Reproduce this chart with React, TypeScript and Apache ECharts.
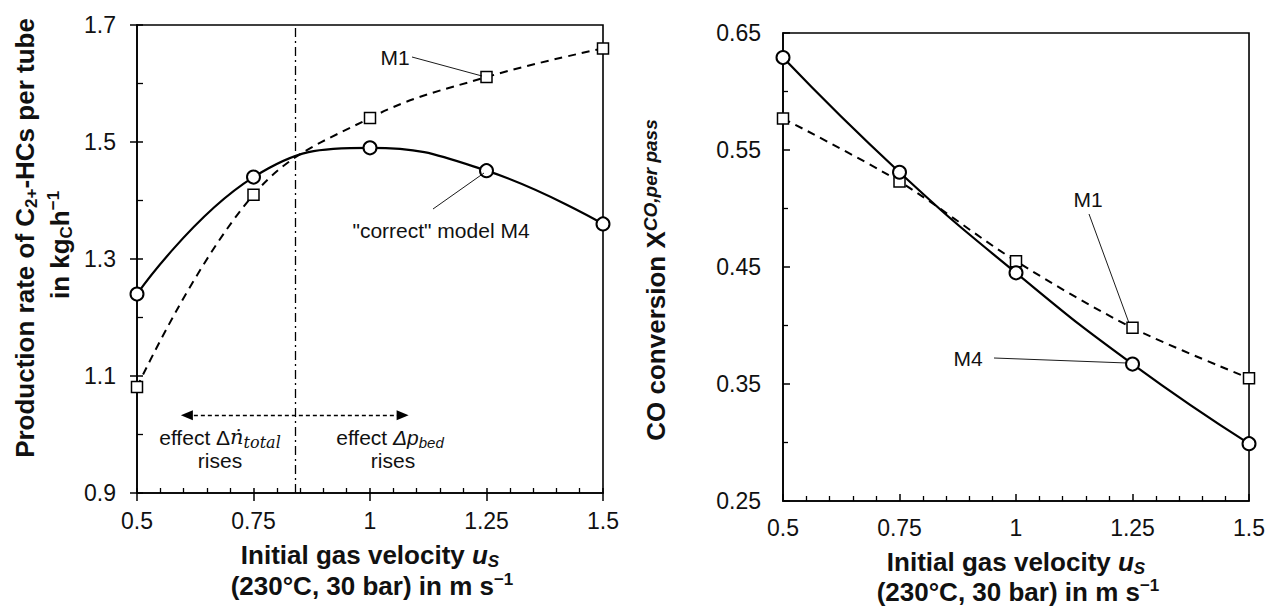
import React, { useEffect, useRef } from "react";
import * as echarts from "echarts";

// ---- data ----
const velocities = [0.5, 0.75, 1, 1.25, 1.5];
const productionM4 = [1.24, 1.44, 1.49, 1.451, 1.36];
const productionM1 = [1.081, 1.41, 1.541, 1.611, 1.66];
const conversionM4 = [0.629, 0.531, 0.445, 0.367, 0.299];
const conversionM1 = [0.577, 0.523, 0.455, 0.398, 0.355];
const crossoverVelocity = 0.84;
const effectArrow = { from: 0.607, to: 1.07, level: 1.033 };

const FONT = "'Liberation Sans', Arial, sans-serif";
const INK = "#000";
const TXT = "#111";

const pairs = (ys: number[]) => velocities.map((x, i) => [x, ys[i]]);

function xMain(grid: number, inside: boolean, len: number, margin: number, minor: boolean) {
  return {
    type: "value", gridIndex: grid, position: "bottom", min: 0.5, max: 1.5, interval: 0.25,
    axisLine: { show: true, onZero: false, lineStyle: { color: INK, width: 1.6 } },
    axisTick: { show: true, inside, length: len, lineStyle: { color: INK, width: 1.5 } },
    minorTick: { show: minor, splitNumber: 5, length: 5, lineStyle: { color: INK, width: 1.3 } },
    axisLabel: { show: true, fontSize: 23, color: TXT, fontFamily: FONT, margin,
      formatter: (v: number) => String(+v.toFixed(2)) },
    splitLine: { show: false },
  };
}
function xOverlay(grid: number) {
  return {
    type: "value", gridIndex: grid, position: "bottom", min: 0.5, max: 1.5, interval: 0.25,
    axisLine: { show: false, onZero: false },
    axisTick: { show: true, inside: true, length: 5, lineStyle: { color: INK, width: 1.5 } },
    minorTick: { show: true, splitNumber: 5, length: 5, lineStyle: { color: INK, width: 1.3 } },
    axisLabel: { show: false }, splitLine: { show: false },
  };
}

export default function App() {
  const ref = useRef<HTMLDivElement>(null);
  useEffect(() => {
    if (!ref.current) return;
    const chart = echarts.init(ref.current, null, { renderer: "svg" });
    const circleStyle = { color: "#fff", borderColor: INK, borderWidth: 2 };
    const squareStyle = { color: "#fff", borderColor: INK, borderWidth: 1.5 };
    const rich = {
      b: { fontSize: 26, fontWeight: "bold", fontFamily: FONT, color: TXT, lineHeight: 30 },
      bi: { fontSize: 26, fontWeight: "bold", fontStyle: "italic", fontFamily: FONT, color: TXT, lineHeight: 30 },
      s: { fontSize: 17, fontWeight: "bold", fontFamily: FONT, color: TXT, lineHeight: 17, verticalAlign: "bottom" },
      si: { fontSize: 17, fontWeight: "bold", fontStyle: "italic", fontFamily: FONT, color: TXT, lineHeight: 17, verticalAlign: "bottom" },
      p: { fontSize: 17, fontWeight: "bold", fontFamily: FONT, color: TXT, lineHeight: 17, verticalAlign: "top" },
      pi: { fontSize: 19, fontWeight: "bold", fontStyle: "italic", fontFamily: FONT, color: TXT, lineHeight: 22, verticalAlign: "top" },
    };
    const noteRich = {
      n: { fontSize: 21, fontFamily: FONT, color: TXT, lineHeight: 26 },
      m: { fontSize: 21, fontStyle: "italic", fontFamily: "'DejaVu Serif', serif", color: TXT, lineHeight: 26 },
      ms: { fontSize: 16, fontStyle: "italic", fontFamily: "'DejaVu Serif', serif", color: TXT, lineHeight: 14, verticalAlign: "bottom" },
      it: { fontSize: 21, fontStyle: "italic", fontFamily: FONT, color: TXT, lineHeight: 26 },
      its: { fontSize: 15, fontStyle: "italic", fontFamily: FONT, color: TXT, lineHeight: 14, verticalAlign: "bottom" },
    };
    const txt = (x: number, y: number, text: string, r: any, rotation = 0) => ({
      type: "text", x, y, rotation, z: 100,
      style: { text, rich: r, align: "center", verticalAlign: "middle", textAlign: "center", textVerticalAlign: "middle", fill: TXT },
    });
    const plain = (x: number, y: number, text: string) => ({
      type: "text", x, y, z: 100,
      style: { text, fontSize: 21, fontFamily: FONT, fill: TXT, align: "center", verticalAlign: "middle", textAlign: "center", textVerticalAlign: "middle" },
    });
    const leader = (x1: number, y1: number, x2: number, y2: number) => ({
      type: "line", z: 100, shape: { x1, y1, x2, y2 }, style: { stroke: INK, lineWidth: 0.9 },
    });

    chart.setOption({
      animation: false,
      backgroundColor: "#fff",
      grid: [
        { left: 137, top: 25, width: 466, height: 468, show: true, borderColor: INK, borderWidth: 1.6, backgroundColor: "transparent" },
        { left: 783, top: 33, width: 467, height: 468, show: true, borderColor: INK, borderWidth: 1.6, backgroundColor: "transparent" },
      ],
      xAxis: [
        xMain(0, false, 8, 16, false),
        xOverlay(0),
        xMain(1, true, 7, 15, true),
      ],
      yAxis: [
        {
          type: "value", gridIndex: 0, position: "left", min: 0.9, max: 1.7, interval: 0.2,
          axisLine: { show: true, onZero: false, lineStyle: { color: INK, width: 1.6 } },
          axisTick: { show: true, inside: false, length: 7, lineStyle: { color: INK, width: 1.5 } },
          axisLabel: { fontSize: 23, color: TXT, fontFamily: FONT, margin: 21, formatter: (v: number) => v.toFixed(1) },
          splitLine: { show: false },
        },
        {
          type: "value", gridIndex: 0, position: "left", min: 0.9, max: 1.7, interval: 0.2,
          axisLine: { show: false, onZero: false },
          axisTick: { show: true, inside: true, length: 6, lineStyle: { color: INK, width: 1.5 } },
          minorTick: { show: true, splitNumber: 2, length: 6, lineStyle: { color: INK, width: 1.3 } },
          axisLabel: { show: false }, splitLine: { show: false },
        },
        {
          type: "value", gridIndex: 1, position: "left", min: 0.25, max: 0.65, interval: 0.1,
          axisLine: { show: true, onZero: false, lineStyle: { color: INK, width: 1.6 } },
          axisTick: { show: true, inside: true, length: 7, lineStyle: { color: INK, width: 1.5 } },
          minorTick: { show: true, splitNumber: 2, length: 5, lineStyle: { color: INK, width: 1.3 } },
          axisLabel: { fontSize: 23, color: TXT, fontFamily: FONT, margin: 22, formatter: (v: number) => v.toFixed(2) },
          splitLine: { show: false },
        },
      ],
      series: [
        {
          name: "M4 production", type: "line", xAxisIndex: 0, yAxisIndex: 0, data: pairs(productionM4),
          smooth: 0.45, symbol: "circle", symbolSize: 13, itemStyle: circleStyle,
          lineStyle: { color: INK, width: 2.2 }, z: 4,
          markLine: {
            silent: true, symbol: ["none", "none"], label: { show: false },
            lineStyle: { color: INK, width: 1.3, type: [9, 4, 2, 4] },
            data: [{ xAxis: crossoverVelocity }],
          },
        },
        {
          name: "M1 production", type: "line", xAxisIndex: 0, yAxisIndex: 0, data: pairs(productionM1),
          smooth: 0.4, symbol: "rect", symbolSize: 11, itemStyle: squareStyle,
          lineStyle: { color: INK, width: 2, type: [8, 6] }, z: 3,
          markLine: {
            silent: true, symbol: ["triangle", "triangle"], symbolSize: [10, 12], label: { show: false },
            lineStyle: { color: INK, width: 1.4, type: [4, 3] },
            data: [[{ coord: [effectArrow.from, effectArrow.level] }, { coord: [effectArrow.to, effectArrow.level] }]],
          },
        },
        {
          name: "M4 conversion", type: "line", xAxisIndex: 2, yAxisIndex: 2, data: pairs(conversionM4),
          smooth: 0.5, symbol: "circle", symbolSize: 13, itemStyle: circleStyle,
          lineStyle: { color: INK, width: 2.2 }, z: 4,
        },
        {
          name: "M1 conversion", type: "line", xAxisIndex: 2, yAxisIndex: 2, data: pairs(conversionM1),
          smooth: 0.3, symbol: "rect", symbolSize: 11, itemStyle: squareStyle,
          lineStyle: { color: INK, width: 2, type: [8, 6] }, z: 3,
        },
      ],
      graphic: [
        // left y title
        txt(25, 238, "{b|Production rate of C}{s|2+}{b|-HCs per tube}", rich, Math.PI / 2),
        txt(60, 245, "{b|in kg}{s|C}{b|h}{p|−1}", rich, Math.PI / 2),
        // left x title
        txt(370, 555, "{b|Initial gas velocity }{bi|u}{si|S}", rich),
        txt(372, 586, "{b|(230°C, 30 bar) in m}{b| s}{p|−1}", rich),
        // right y title
        txt(656, 280, "{b|CO conversion }{b|X}{pi|CO,per pass}", rich, Math.PI / 2),
        // right x title
        txt(1016, 562, "{b|Initial gas velocity }{bi|u}{si|S}", rich),
        txt(1018, 592, "{b|(230°C, 30 bar) in m}{b| s}{p|−1}", rich),
        // left annotations
        plain(395, 57, "M1"),
        leader(412, 57, 482, 76),
        plain(441, 230, "\"correct\" model M4"),
        leader(433, 209, 484, 173),
        txt(220, 437, "{n|effect Δ}{m|ṅ}{ms|total}", noteRich),
        plain(220, 460, "rises"),
        txt(390, 437, "{n|effect }{it|Δp}{its|bed}", noteRich),
        plain(393, 460, "rises"),
        // right annotations
        plain(1088, 199, "M1"),
        leader(1089, 214, 1129, 323),
        plain(968, 358, "M4"),
        leader(994, 358, 1127, 363),
      ],
    });
    return () => chart.dispose();
  }, []);
  return (
    <div
      ref={ref}
      style={{ position: "fixed", left: 0, top: 0, width: 1268, height: 610, background: "#fff" }}
    />
  );
}
